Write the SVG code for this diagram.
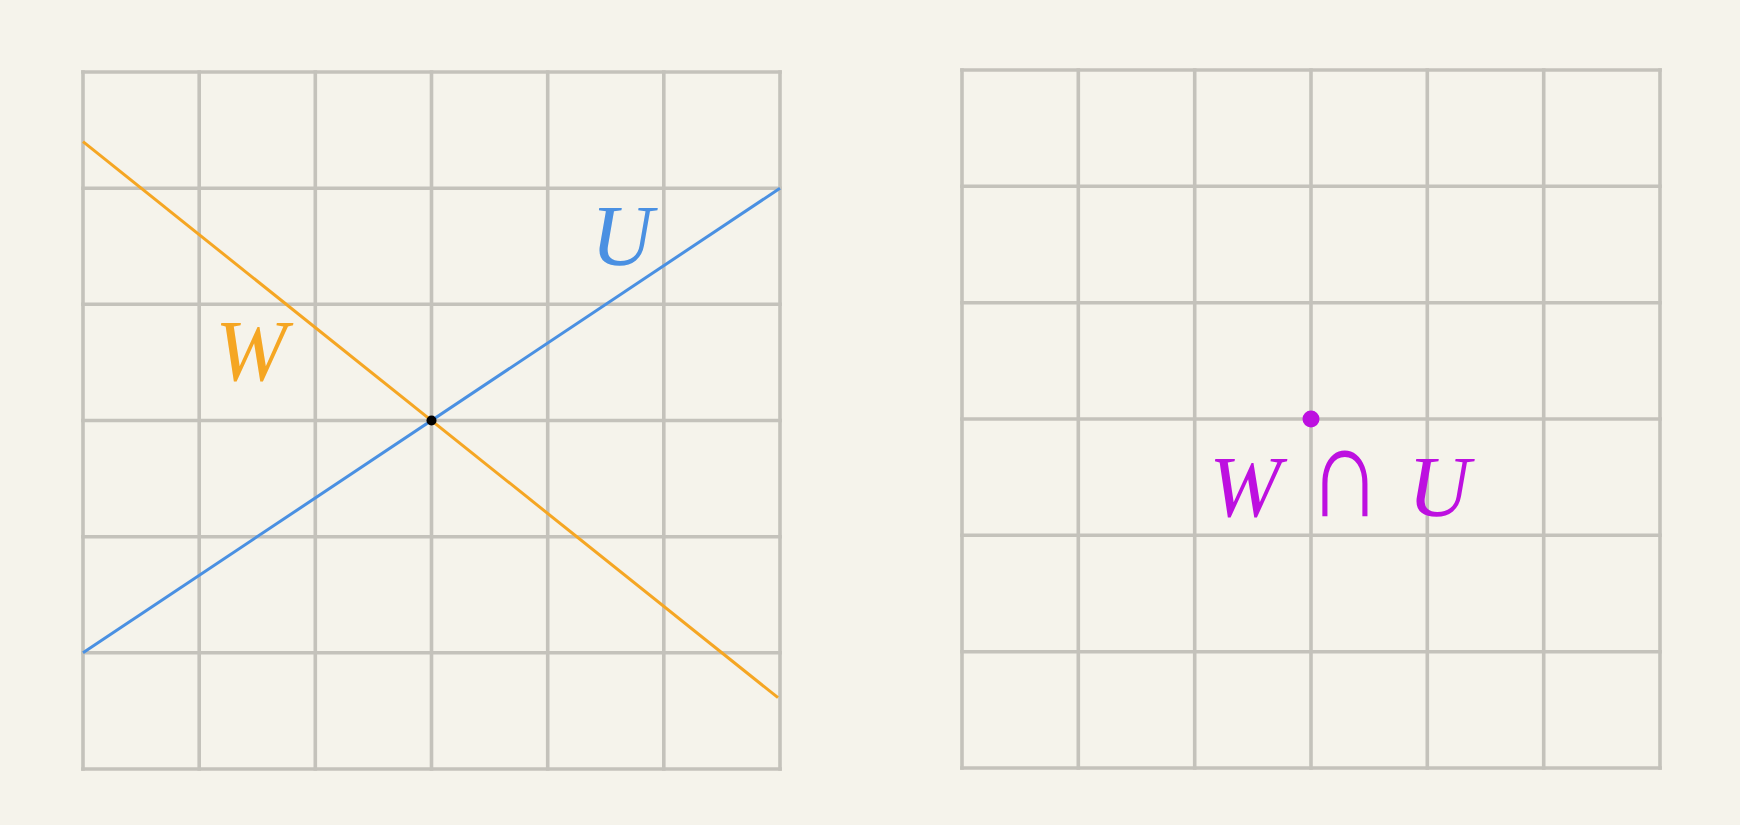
<svg xmlns="http://www.w3.org/2000/svg" width="1740" height="825" viewBox="0 0 1740 825">
<style>
.grid line{stroke:#c4c2bb;stroke-width:3.6;stroke-linecap:square}
.lbl{font-family:"Liberation Serif","DejaVu Serif",serif;font-style:italic;font-size:86px;text-anchor:middle}
.op{font-family:"DejaVu Sans",sans-serif;font-weight:200;font-size:112px;text-anchor:middle}
</style>
<rect width="1740" height="825" fill="#f5f3eb"/>
<g id="grid-left" class="grid">
<line x1="83" y1="72" x2="83" y2="769"/>
<line x1="199.2" y1="72" x2="199.2" y2="769"/>
<line x1="315.3" y1="72" x2="315.3" y2="769"/>
<line x1="431.5" y1="72" x2="431.5" y2="769"/>
<line x1="547.7" y1="72" x2="547.7" y2="769"/>
<line x1="663.8" y1="72" x2="663.8" y2="769"/>
<line x1="780" y1="72" x2="780" y2="769"/>
<line x1="83" y1="72" x2="780" y2="72"/>
<line x1="83" y1="188.2" x2="780" y2="188.2"/>
<line x1="83" y1="304.3" x2="780" y2="304.3"/>
<line x1="83" y1="420.5" x2="780" y2="420.5"/>
<line x1="83" y1="536.7" x2="780" y2="536.7"/>
<line x1="83" y1="652.8" x2="780" y2="652.8"/>
<line x1="83" y1="769" x2="780" y2="769"/>
</g>
<g id="grid-right" class="grid">
<line x1="962" y1="70" x2="962" y2="768"/>
<line x1="1078.3" y1="70" x2="1078.3" y2="768"/>
<line x1="1194.7" y1="70" x2="1194.7" y2="768"/>
<line x1="1311" y1="70" x2="1311" y2="768"/>
<line x1="1427.3" y1="70" x2="1427.3" y2="768"/>
<line x1="1543.7" y1="70" x2="1543.7" y2="768"/>
<line x1="1660" y1="70" x2="1660" y2="768"/>
<line x1="962" y1="70" x2="1660" y2="70"/>
<line x1="962" y1="186.3" x2="1660" y2="186.3"/>
<line x1="962" y1="302.7" x2="1660" y2="302.7"/>
<line x1="962" y1="419" x2="1660" y2="419"/>
<line x1="962" y1="535.3" x2="1660" y2="535.3"/>
<line x1="962" y1="651.7" x2="1660" y2="651.7"/>
<line x1="962" y1="768" x2="1660" y2="768"/>
</g>
<g id="connectors">
<line id="line-W" x1="83" y1="141.7" x2="778" y2="697.7" stroke="#f5a623" stroke-width="3"/>
<line id="line-U" x1="83" y1="652.8" x2="780" y2="188.2" stroke="#4a90e2" stroke-width="3"/>
</g>
<g id="node-intersection"><circle cx="431.5" cy="420.5" r="5" fill="#000"/></g>
<g id="node-W"><text class="lbl" x="251" y="380" fill="#f5a623">W</text></g>
<g id="node-U"><text class="lbl" x="622" y="265" fill="#4a90e2">U</text></g>
<g id="node-WcapU">
<circle cx="1311" cy="419" r="8.5" fill="#bd10e0"/>
<text class="lbl" x="1245" y="516" fill="#bd10e0">W</text>
<text class="op" transform="translate(1345,516) scale(0.9,1.16)" fill="#bd10e0">∩</text>
<text class="lbl" x="1439" y="516" fill="#bd10e0">U</text>
</g>
</svg>
